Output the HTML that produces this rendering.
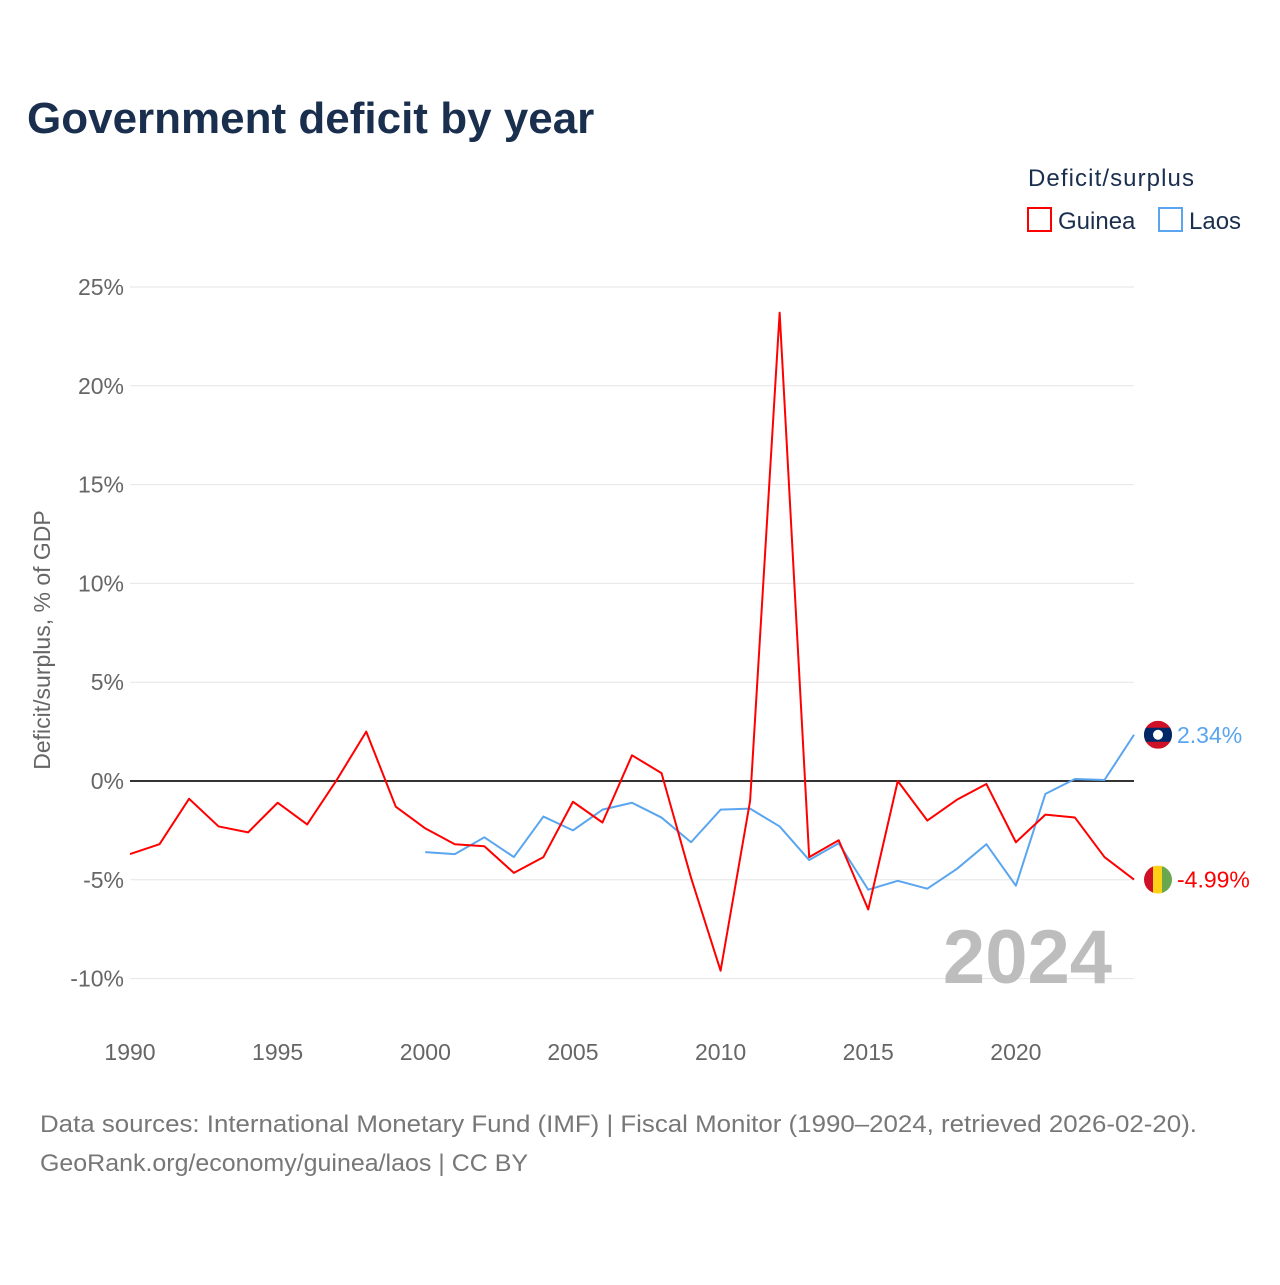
<!DOCTYPE html>
<html><head><meta charset="utf-8"><style>
body{margin:0;background:#fff;font-family:"Liberation Sans",sans-serif;}
svg text{font-family:"Liberation Sans",sans-serif;}
</style></head><body>
<svg id="chart" width="1280" height="1280" xmlns="http://www.w3.org/2000/svg">
<defs><clipPath id="cl"><circle cx="1158" cy="0" r="14"/></clipPath></defs>
<text x="27" y="133" font-size="44" font-weight="bold" fill="#1a2e4e">Government deficit by year</text>
<text x="1028" y="186" font-size="24" fill="#1a2e4e" textLength="166">Deficit/surplus</text>
<g><rect x="1028" y="208" width="23" height="23" fill="none" stroke="#ff0000" stroke-width="2"/><text x="1058" y="229" font-size="24" fill="#1a2e4e">Guinea</text></g>
<g><rect x="1159" y="208" width="23" height="23" fill="none" stroke="#5aa5ef" stroke-width="2"/><text x="1189" y="229" font-size="24" fill="#1a2e4e">Laos</text></g>
<g id="grid"></g><g id="yt"></g><g id="xt"></g>
<text transform="translate(50,640) rotate(-90)" text-anchor="middle" font-size="23" fill="#666">Deficit/surplus, % of GDP</text>
<text x="1112" y="983" text-anchor="end" font-size="76" font-weight="bold" fill="#bdbdbd">2024</text>
<g id="series"></g>
<text x="40" y="1132" font-size="24" fill="#777" textLength="1157" lengthAdjust="spacingAndGlyphs">Data sources: International Monetary Fund (IMF) | Fiscal Monitor (1990–2024, retrieved 2026-02-20).</text>
<text x="40" y="1171" font-size="24" fill="#777" textLength="488" lengthAdjust="spacingAndGlyphs">GeoRank.org/economy/guinea/laos | CC BY</text>
</svg>
<script>
const yTicks=[25,20,15,10,5,0,-5,-10];
const xTicks=[1990,1995,2000,2005,2010,2015,2020];
const guineaYears=[1990,1991,1992,1993,1994,1995,1996,1997,1998,1999,2000,2001,2002,2003,2004,2005,2006,2007,2008,2009,2010,2011,2012,2013,2014,2015,2016,2017,2018,2019,2020,2021,2022,2023,2024];
const guinea=[-3.7,-3.2,-0.9,-2.3,-2.6,-1.1,-2.2,0.05,2.5,-1.3,-2.4,-3.2,-3.3,-4.65,-3.85,-1.05,-2.1,1.3,0.4,-4.9,-9.6,-1.0,23.7,-3.85,-3.0,-6.5,0,-2.0,-0.95,-0.15,-3.1,-1.7,-1.85,-3.85,-4.99];
const laosYears=[2000,2001,2002,2003,2004,2005,2006,2007,2008,2009,2010,2011,2012,2013,2014,2015,2016,2017,2018,2019,2020,2021,2022,2023,2024];
const laos=[-3.6,-3.7,-2.85,-3.85,-1.8,-2.5,-1.45,-1.1,-1.85,-3.1,-1.45,-1.4,-2.3,-4.0,-3.15,-5.5,-5.05,-5.45,-4.45,-3.2,-5.3,-0.65,0.1,0.05,2.34];
const X=y=>130+(y-1990)*(1134-130)/34;
const Y=v=>781-v*19.76;
const NS="http://www.w3.org/2000/svg";
function mk(t,a,p){const e=document.createElementNS(NS,t);for(const k in a)e.setAttribute(k,a[k]);p.appendChild(e);return e;}
const grid=document.getElementById('grid'),yt=document.getElementById('yt'),xt=document.getElementById('xt'),ser=document.getElementById('series');
yTicks.forEach(v=>{
 const l=mk('line',{x1:130,x2:1134,y1:Y(v),y2:Y(v),stroke:v===0?'#333':'#e6e6e6','stroke-width':v===0?2:1},grid);
 
 
 const t=mk('text',{x:124,y:Y(v)+8,'text-anchor':'end','font-size':23,fill:'#666'},yt);t.textContent=v+'%';
 
 
});
xTicks.forEach(y=>{
 const t=mk('text',{x:X(y),y:1060,'text-anchor':'middle','font-size':23,fill:'#666'},xt);t.textContent=y;
 
 
});
function line(ys,vs,c,name){
 const p=mk('polyline',{points:ys.map((y,i)=>X(y)+','+Y(vs[i])).join(' '),fill:'none',stroke:c,'stroke-width':2,'stroke-linejoin':'round'},ser);
 
 
}
line(laosYears,laos,'#5aa5ef','laos-line');
line(guineaYears,guinea,'#ff0000','guinea-line');
const gl=guinea[guinea.length-1],ll=laos[laos.length-1];
// Laos flag
const lg=mk('g',{transform:`translate(0,${Y(ll)})`},ser);


const lgc=mk('g',{'clip-path':'url(#cl)'},lg);
mk('rect',{x:1144,y:-14,width:28,height:28,fill:'#ce1126'},lgc);
mk('rect',{x:1144,y:-7,width:28,height:14,fill:'#002868'},lgc);
mk('circle',{cx:1158,cy:0,r:5,fill:'#fff'},lg);
const lt=mk('text',{x:1177,y:Y(ll)+8,'font-size':23,fill:'#5aa5ef'},ser);lt.textContent=ll.toFixed(2)+'%';


// Guinea flag
const gg=mk('g',{transform:`translate(0,${Y(gl)})`},ser);


const ggc=mk('g',{'clip-path':'url(#cl)'},gg);
mk('rect',{x:1144,y:-14,width:10,height:28,fill:'#ce1126'},ggc);
mk('rect',{x:1153,y:-14,width:10,height:28,fill:'#fcd116'},ggc);
mk('rect',{x:1162,y:-14,width:10,height:28,fill:'#6aa84f'},ggc);
const gt=mk('text',{x:1177,y:Y(gl)+8,'font-size':23,fill:'#ff0000'},ser);gt.textContent=gl.toFixed(2)+'%';


</script>
</body></html>
